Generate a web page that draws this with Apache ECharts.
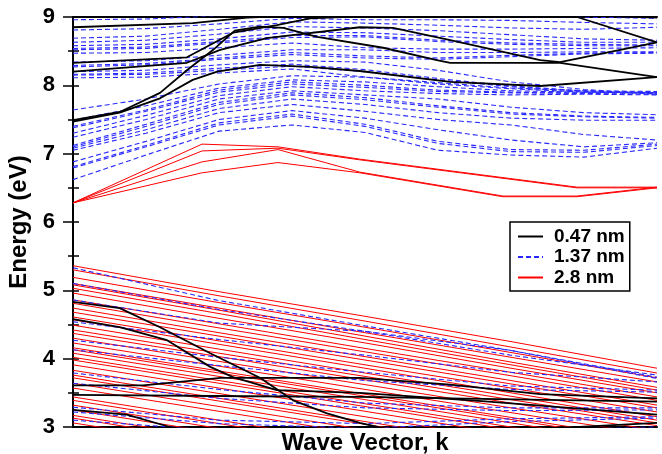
<!DOCTYPE html>
<html>
<head>
<meta charset="utf-8">
<script src="https://cdn.jsdelivr.net/npm/echarts@6/dist/echarts.min.js"></script>
<style>
  html, body { margin: 0; padding: 0; background: #fff; }
  #chart { width: 662px; height: 454px; }
</style>
</head>
<body>
<div id="chart"></div>
<script>
// ---- Band energies (eV) versus wave vector k (0..1) ----

// Axis ticks
const yMajorTicks = [3, 4, 5, 6, 7, 8, 9];
const legendNames = ['0.47 nm', '1.37 nm', '2.8 nm'];

// 0.47 nm wire: conduction bands, [k, E] pairs
const wire047Cond1 = [[0, 8.85], [0.205, 8.91], [0.298, 8.99], [0.5, 9.06], [0.885, 9.02], [1, 8.99]];
const wire047Cond2 = [[0, 8.33], [0.195, 8.41], [0.274, 8.77], [0.349, 8.88], [0.406, 8.98], [0.6, 9.05], [0.863, 9.0], [1, 8.63]];
const wire047Cond3 = [[0, 8.20], [0.195, 8.33], [0.252, 8.52], [0.332, 8.69], [0.491, 8.85], [0.548, 8.84], [0.646, 8.66], [0.8, 8.37], [0.834, 8.34], [1, 8.63]];
const wire047Cond4 = [[0, 7.49], [0.080, 7.61], [0.149, 7.89], [0.195, 8.22], [0.240, 8.52], [0.277, 8.80], [0.320, 8.86], [0.360, 8.84], [0.418, 8.71], [0.531, 8.55], [0.623, 8.37], [0.646, 8.33], [0.834, 8.33], [1, 8.12]];
const wire047Cond5 = [[0, 7.47], [0.080, 7.60], [0.149, 7.81], [0.205, 8.08], [0.247, 8.20], [0.320, 8.30], [0.406, 8.27], [0.491, 8.21], [0.646, 8.05], [0.800, 7.99], [1, 8.12]];

// 0.47 nm wire: valence bands, [k, E] pairs
const wire047Val1 = [[0, 4.83], [0.08, 4.74], [0.149, 4.46], [0.235, 4.08], [0.320, 3.72], [0.377, 3.39], [0.435, 3.20], [0.491, 3.06], [0.6, 2.85]];
const wire047Val2 = [[0, 4.58], [0.08, 4.46], [0.161, 4.27], [0.235, 3.88], [0.274, 3.73], [0.349, 3.54], [0.491, 3.50], [0.7, 3.38], [1, 3.18]];
const wire047Val3 = [[0, 3.61], [0.12, 3.61], [0.253, 3.72], [0.491, 3.72], [0.646, 3.62], [0.8, 3.48], [1, 3.42]];
const wire047Val4 = [[0, 3.47], [0.3, 3.45], [0.491, 3.44], [0.646, 3.42], [1, 3.37]];
const wire047Val5 = [[0, 3.25], [0.092, 3.18], [0.166, 3.0], [0.3, 2.7]];
const wire047Val6 = [[0.5, 2.85], [0.75, 2.95], [1, 3.06]];

// 1.37 nm wire: conduction bands sampled on kCond
const kCond = [0, 0.125, 0.25, 0.375, 0.5, 0.625, 0.75, 0.875, 1];
const wire137Cond = [
  [6.62, 6.98, 7.33, 7.42, 7.31, 7.05, 6.98, 6.95, 7.08],
  [6.79, 7.10, 7.42, 7.55, 7.40, 7.15, 7.03, 7.02, 7.12],
  [6.81, 7.12, 7.45, 7.58, 7.43, 7.18, 7.06, 7.05, 7.14],
  [6.88, 7.18, 7.50, 7.63, 7.52, 7.35, 7.20, 7.10, 7.16],
  [7.05, 7.30, 7.60, 7.72, 7.62, 7.50, 7.42, 7.28, 7.20],
  [7.08, 7.35, 7.66, 7.80, 7.72, 7.60, 7.52, 7.49, 7.49],
  [7.10, 7.40, 7.72, 7.86, 7.79, 7.68, 7.58, 7.54, 7.52],
  [7.12, 7.43, 7.75, 7.89, 7.82, 7.70, 7.60, 7.55, 7.53],
  [7.24, 7.50, 7.80, 7.92, 7.86, 7.80, 7.68, 7.60, 7.57],
  [7.30, 7.56, 7.85, 7.98, 7.92, 7.88, 7.86, 7.87, 7.86],
  [7.38, 7.62, 7.90, 8.02, 7.97, 7.91, 7.89, 7.89, 7.89],
  [7.40, 7.64, 7.93, 8.05, 8.00, 7.93, 7.90, 7.88, 7.87],
  [7.49, 7.70, 7.96, 8.08, 8.05, 7.98, 7.92, 7.90, 7.90],
  [7.64, 7.80, 8.02, 8.14, 8.12, 8.04, 7.96, 7.92, 7.91],
  [8.11, 8.12, 8.18, 8.24, 8.12, 8.02, 7.95, 7.90, 7.89],
  [8.15, 8.16, 8.22, 8.28, 8.20, 8.08, 7.98, 7.91, 7.88],
  [8.16, 8.18, 8.25, 8.31, 8.23, 8.10, 7.99, 7.92, 7.89],
  [8.20, 8.22, 8.30, 8.36, 8.34, 8.22, 8.05, 7.94, 7.87],
  [8.27, 8.30, 8.38, 8.45, 8.40, 8.38, 8.42, 8.46, 8.47],
  [8.29, 8.32, 8.40, 8.48, 8.43, 8.40, 8.44, 8.47, 8.48],
  [8.34, 8.36, 8.44, 8.52, 8.52, 8.48, 8.48, 8.49, 8.49],
  [8.47, 8.48, 8.55, 8.62, 8.55, 8.53, 8.53, 8.54, 8.55],
  [8.52, 8.54, 8.62, 8.70, 8.71, 8.64, 8.60, 8.58, 8.58],
  [8.54, 8.56, 8.64, 8.73, 8.73, 8.66, 8.62, 8.60, 8.59],
  [8.58, 8.60, 8.68, 8.78, 8.77, 8.72, 8.67, 8.63, 8.63],
  [8.63, 8.66, 8.75, 8.86, 8.84, 8.80, 8.74, 8.68, 8.66],
  [8.69, 8.72, 8.82, 8.93, 8.91, 8.88, 8.84, 8.82, 8.85],
  [8.81, 8.83, 8.90, 8.98, 8.96, 8.96, 8.95, 8.92, 8.90],
  [8.96, 8.97, 9.02, 9.06, 9.05, 9.04, 9.02, 9.00, 8.98]
];

// Valence bands of the wider wires sampled on kVal
const kVal = [0, 0.25, 0.5, 0.75, 1];
const wire137Val = [
  [5.33, 4.85, 4.48, 4.12, 3.73],
  [5.10, 4.72, 4.40, 4.05, 3.76],
  [4.86, 4.52, 4.40, 4.12, 3.71],
  [4.54, 4.28, 4.05, 3.80, 3.66],
  [4.27, 4.02, 3.80, 3.60, 3.54],
  [4.13, 3.90, 3.68, 3.55, 3.51],
  [3.79, 3.55, 3.35, 3.28, 3.28],
  [3.64, 3.42, 3.28, 3.24, 3.25],
  [3.29, 3.10, 3.05, 3.12, 3.15],
  [3.22, 3.05, 2.98, 3.08, 3.13],
  [3.10, 2.95, 2.90, 2.95, 3.00]
];

// 2.8 nm wire: conduction bands, [k, E] pairs
const wire28Cond1 = [[0, 6.28], [0.221, 7.14], [0.351, 7.10], [0.491, 6.92], [0.863, 6.51], [0.932, 6.51], [1, 6.51]];
const wire28Cond2 = [[0, 6.28], [0.221, 7.04], [0.351, 7.08], [0.491, 6.91], [0.863, 6.50], [1, 6.50]];
const wire28Cond3 = [[0, 6.28], [0.221, 6.88], [0.351, 7.06], [0.491, 6.73], [0.736, 6.38], [0.863, 6.38], [1, 6.51]];
const wire28Cond4 = [[0, 6.28], [0.221, 6.72], [0.351, 6.87], [0.491, 6.72], [0.736, 6.37], [0.863, 6.37], [1, 6.50]];

// 2.8 nm wire: valence bands sampled on kVal
const wire28Val = [
  [5.36, 4.98, 4.62, 4.25, 3.86],
  [5.30, 4.92, 4.55, 4.17, 3.79],
  [5.19, 4.82, 4.46, 4.09, 3.72],
  [5.10, 4.74, 4.38, 4.02, 3.66],
  [5.08, 4.71, 4.33, 3.95, 3.58],
  [5.03, 4.66, 4.28, 3.91, 3.54],
  [4.96, 4.59, 4.23, 3.86, 3.50],
  [4.86, 4.51, 4.15, 3.80, 3.44],
  [4.81, 4.45, 4.10, 3.75, 3.39],
  [4.74, 4.38, 4.03, 3.68, 3.32],
  [4.68, 4.33, 3.98, 3.63, 3.28],
  [4.61, 4.26, 3.91, 3.57, 3.22],
  [4.57, 4.21, 3.86, 3.50, 3.15],
  [4.49, 4.14, 3.79, 3.45, 3.10],
  [4.42, 4.08, 3.74, 3.40, 3.06],
  [4.37, 4.03, 3.69, 3.35, 3.02],
  [4.30, 3.96, 3.62, 3.28, 2.95],
  [4.23, 3.89, 3.55, 3.21, 2.88],
  [4.16, 3.82, 3.48, 3.14, 2.80],
  [4.13, 3.79, 3.45, 3.11, 2.77],
  [4.08, 3.74, 3.40, 3.06, 2.72],
  [4.02, 3.68, 3.34, 3.00, 2.66],
  [3.98, 3.64, 3.30, 2.96, 2.62],
  [3.91, 3.57, 3.23, 2.89, 2.55],
  [3.83, 3.49, 3.15, 2.81, 2.47],
  [3.76, 3.42, 3.08, 2.74, 2.40],
  [3.72, 3.38, 3.04, 2.70, 2.36],
  [3.64, 3.30, 2.96, 2.62, 2.28],
  [3.57, 3.23, 2.89, 2.55, 2.21],
  [3.44, 3.10, 2.76, 2.42, 2.08],
  [3.39, 3.05, 2.71, 2.37, 2.03],
  [3.32, 2.98, 2.64, 2.30, 1.96],
  [3.25, 2.91, 2.57, 2.23, 1.89],
  [3.17, 2.83, 2.49, 2.15, 1.81],
  [3.13, 2.79, 2.45, 2.11, 1.77],
  [3.06, 2.72, 2.38, 2.04, 1.70]
];

// ---- Build series ----
const FONT = 'Liberation Sans, Arial, Helvetica, sans-serif';
const styles = {
  '0.47 nm': { color: '#000000', width: 1.8, type: 'solid', z: 4 },
  '1.37 nm': { color: '#2828ff', width: 1.1, type: [5, 3], z: 3 },
  '2.8 nm':  { color: '#ff0000', width: 1.0, type: 'solid', z: 2 }
};

function band(name, points) {
  const s = styles[name];
  return {
    type: 'line',
    name: name,
    data: points,
    symbol: 'none',
    smooth: false,
    clip: true,
    silent: true,
    animation: false,
    z: s.z,
    color: s.color,
    lineStyle: { color: s.color, width: s.width, type: s.type }
  };
}
function onGrid(ks, values) {
  return ks.map((k, i) => [k, values[i]]);
}

const series = [];
[wire047Cond1, wire047Cond2, wire047Cond3, wire047Cond4, wire047Cond5,
 wire047Val1, wire047Val2, wire047Val3, wire047Val4, wire047Val5, wire047Val6]
  .forEach(p => series.push(band('0.47 nm', p)));
wire137Cond.forEach(v => series.push(band('1.37 nm', onGrid(kCond, v))));
wire137Val.forEach(v => series.push(band('1.37 nm', onGrid(kVal, v))));
[wire28Cond1, wire28Cond2, wire28Cond3, wire28Cond4]
  .forEach(p => series.push(band('2.8 nm', p)));
wire28Val.forEach(v => series.push(band('2.8 nm', onGrid(kVal, v))));

const axisBlack = { color: '#000', width: 2 };

const option = {
  backgroundColor: '#fff',
  animation: false,
  grid: { left: 73, right: 5, top: 17, bottom: 27, outerBoundsMode: 'none', containLabel: false },
  legend: {
    data: legendNames,
    orient: 'vertical',
    left: 510,
    top: 222,
    itemWidth: 25,
    itemHeight: 14,
    itemGap: 1.5,
    padding: [5, 5, 4, 7],
    backgroundColor: '#fff',
    borderColor: '#000',
    borderWidth: 1.5,
    borderRadius: 0,
    selectedMode: false,
    itemStyle: { opacity: 0 },
    textStyle: { fontFamily: FONT, fontWeight: 'bold', fontSize: 19, color: '#000', padding: [0, 0, 0, 6] }
  },
  xAxis: [
    {
      type: 'value', min: 0, max: 1, position: 'bottom',
      axisLine: { show: true, lineStyle: axisBlack },
      axisTick: { show: false }, axisLabel: { show: false }, splitLine: { show: false },
      name: 'Wave Vector, k', nameLocation: 'middle', nameGap: 4,
      nameTextStyle: { fontFamily: FONT, fontWeight: 'bold', fontSize: 24, color: '#000' }
    },
    {
      type: 'value', min: 0, max: 1, position: 'top',
      axisLine: { show: true, lineStyle: axisBlack },
      axisTick: { show: false }, axisLabel: { show: false }, splitLine: { show: false }
    }
  ],
  yAxis: [
    {
      type: 'value', min: 3, max: 9, interval: 1, position: 'left',
      axisLine: { show: true, lineStyle: axisBlack },
      axisTick: { show: true, inside: false, length: 10, lineStyle: { color: '#000', width: 1.5 } },
      minorTick: { show: true, splitNumber: 2, length: 5, lineStyle: { color: '#000', width: 1.5 } },
      splitLine: { show: false }, minorSplitLine: { show: false },
      axisLabel: {
        margin: 18, fontFamily: FONT, fontWeight: 'bold', fontSize: 22, color: '#000',
        formatter: v => (yMajorTicks.indexOf(v) >= 0 ? String(v) : '')
      },
      name: 'Energy (eV)', nameLocation: 'middle', nameGap: 37, nameRotate: 90,
      nameTextStyle: { fontFamily: FONT, fontWeight: 'bold', fontSize: 24, color: '#000' }
    },
    {
      type: 'value', min: 3, max: 9, interval: 0.5, position: 'right',
      axisLine: { show: true, lineStyle: axisBlack },
      axisTick: { show: true, inside: false, length: 6, lineStyle: { color: '#000', width: 1.5 } },
      axisLabel: { show: false }, splitLine: { show: false }
    }
  ],
  series: series
};

const chart = echarts.init(document.getElementById('chart'), null, { renderer: 'canvas' });
chart.setOption(option);
</script>
</body>
</html>
